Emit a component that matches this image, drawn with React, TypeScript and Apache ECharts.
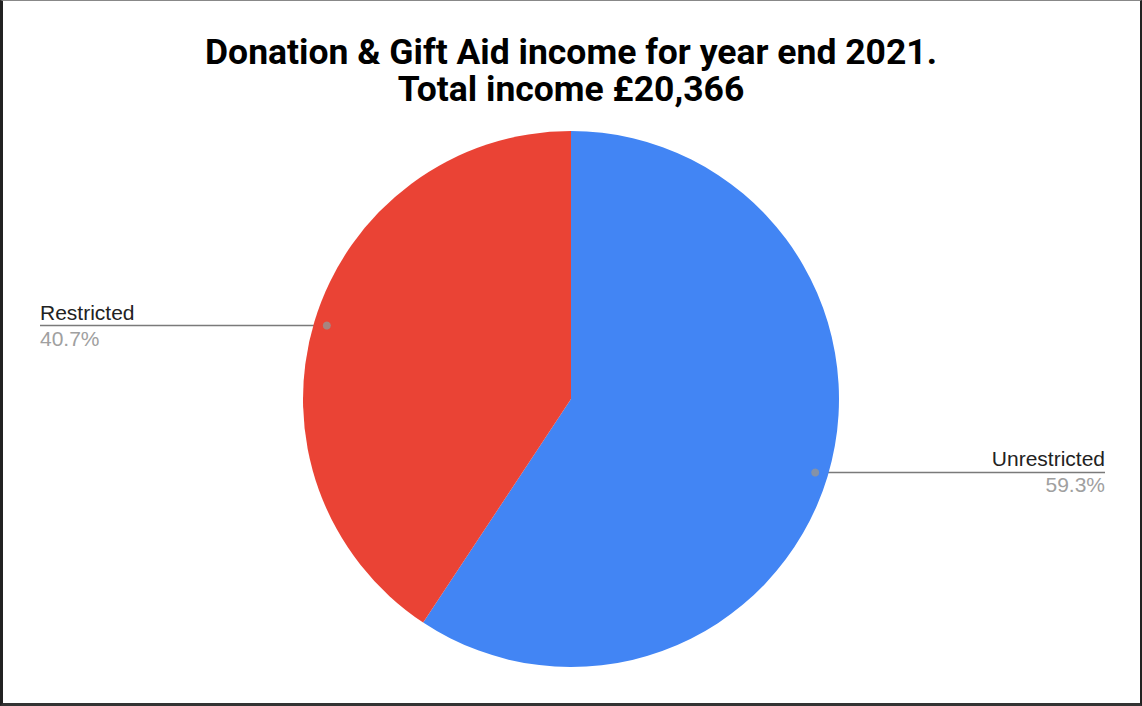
import React, { useEffect, useRef } from "react";
import * as echarts from "echarts";

const categories = ["Unrestricted", "Restricted"];
const values = [59.3, 40.7];
const colors = ["#4285F4", "#EA4335"];
const titleLines = ["Donation & Gift Aid income for year end 2021.", "Total income £20,366"];

const W = 1142;
const H = 706;
const CX = 571;
const CY = 399;
const R = 268;
const DOT_R = 255;
const LEFT_X = 40;
const RIGHT_X = 1105;

export default function App() {
  const ref = useRef<HTMLDivElement>(null);
  useEffect(() => {
    const chart = echarts.init(ref.current!, undefined, { renderer: "svg" });
    const total = values.reduce((a, b) => a + b, 0);
    const mids: number[] = [];
    let cum = 0;
    values.forEach((v) => {
      mids.push(cum + v / 2);
      cum += v;
    });
    const dotPt = (i: number) => {
      const a = ((90 - (mids[i] / total) * 360) * Math.PI) / 180;
      return [CX + DOT_R * Math.cos(a), CY - DOT_R * Math.sin(a)];
    };
    chart.setOption({
      animation: false,
      title: {
        text: titleLines.join("\n"),
        left: "center",
        top: 29,
        textStyle: {
          fontFamily: "Roboto",
          fontWeight: "bold",
          fontSize: 35.5,
          lineHeight: 36.5,
          color: "#000",
        },
      },
      polar: { center: [CX, CY], radius: [0, R] },
      angleAxis: { type: "value", min: 0, max: total, startAngle: 90, clockwise: true, show: false },
      radiusAxis: { type: "value", min: 0, max: R, show: false },
      series: [
        {
          type: "pie",
          center: [CX, CY],
          radius: [0, R],
          startAngle: 90,
          clockwise: true,
          emphasis: { disabled: true },
          data: categories.map((c, i) => ({ name: c, value: values[i], itemStyle: { color: colors[i] } })),
          label: {
            show: true,
            position: "outside",
            formatter: (p: any) => `{n|${p.name}}\n{p|${p.percent.toFixed(1)}%}`,
            rich: {
              n: { fontFamily: "Liberation Sans", fontSize: 21, lineHeight: 25, color: "#222" },
              p: { fontFamily: "Liberation Sans", fontSize: 21, lineHeight: 27, color: "#a0a0a0" },
            },
          },
          labelLine: { show: true, lineStyle: { color: "#7a7a7a", width: 1.6 } },
          labelLayout: (params: any) => {
            const i = params.dataIndex;
            const [x, y] = dotPt(i);
            const isLeft = x < CX;
            const endX = isLeft ? LEFT_X : RIGHT_X;
            return {
              x: endX,
              y: y,
              align: isLeft ? "left" : "right",
              verticalAlign: "middle",
              labelLinePoints: [
                [x, y],
                [endX, y],
              ],
            };
          },
        },
        {
          type: "scatter",
          coordinateSystem: "polar",
          data: mids.map((m) => [DOT_R, m]),
          symbolSize: 8,
          itemStyle: { color: "#959595" },
          silent: true,
          z: 5,
        },
      ],
    });
    return () => chart.dispose();
  }, []);
  return (
    <div style={{ position: "fixed", left: 0, top: 0, width: W, height: H, background: "#fff" }}>
      <div ref={ref} style={{ position: "absolute", left: 0, top: 0, width: W, height: H }} />
      <div
        style={{
          position: "absolute",
          left: 0,
          top: 0,
          width: W,
          height: H,
          boxSizing: "border-box",
          borderTop: "1px solid #888",
          borderLeft: "3px solid #222",
          borderRight: "2px solid #222",
          borderBottom: "3px solid #333",
          pointerEvents: "none",
        }}
      />
    </div>
  );
}
